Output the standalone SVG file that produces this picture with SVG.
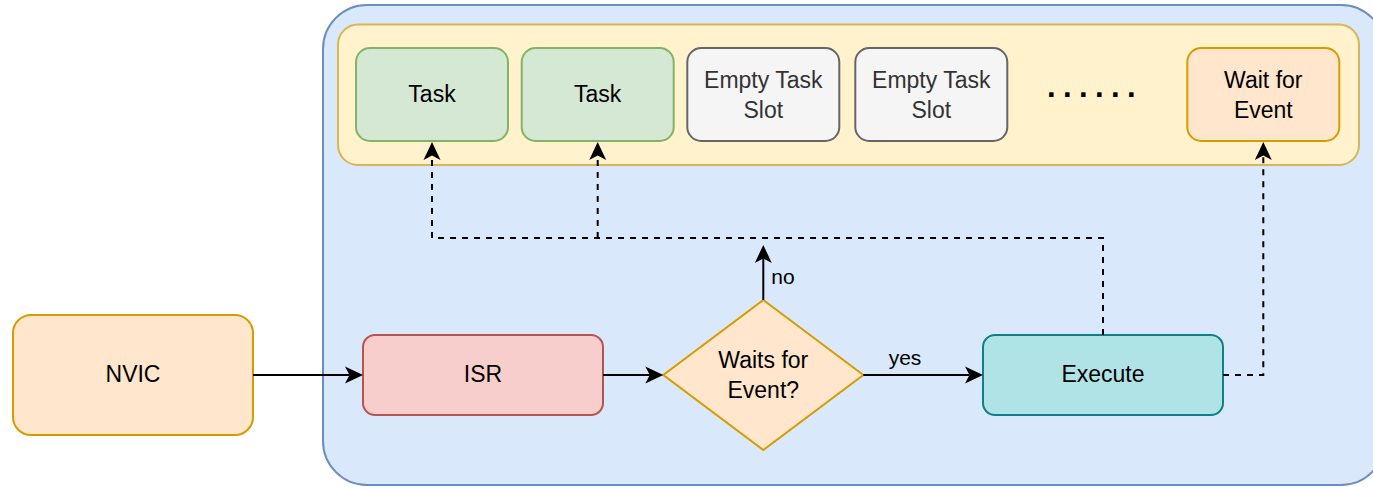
<svg xmlns="http://www.w3.org/2000/svg" width="1373" height="487" viewBox="0 0 1373 487">
<style>
text{font-family:"Liberation Sans",Arial,sans-serif;font-size:23px;fill:#000;text-anchor:middle}
.lbl{font-size:21px}
.gray{fill:#333333}
.edge{fill:none;stroke:#000;stroke-width:2}
.dash{stroke-dasharray:6 6}
.b{stroke-width:2}
</style>
<defs>
<marker id="arr" viewBox="-5 -9 19 18" markerWidth="19" markerHeight="18" refX="0" refY="0" orient="auto" markerUnits="userSpaceOnUse">
<path d="M13.5,0 L-4.5,-8.5 L0,0 L-4.5,8.5 Z" fill="#000"/>
</marker>
</defs>
<g id="container">
<rect x="323" y="5" width="1062" height="480" rx="44" fill="#dae8fc" stroke="#6c8ebf" class="b"/>
</g>
<g id="taskpool">
<rect x="338" y="24.5" width="1021" height="140.5" rx="20" fill="#fff2cc" stroke="#d6b656" class="b"/>
</g>
<g id="task1">
<rect x="356" y="48" width="152" height="93" rx="14" fill="#d5e8d4" stroke="#82b366" class="b"/>
<text x="432" y="102">Task</text>
</g>
<g id="task2">
<rect x="521.7" y="48" width="152" height="93" rx="14" fill="#d5e8d4" stroke="#82b366" class="b"/>
<text x="597.7" y="102">Task</text>
</g>
<g id="empty1">
<rect x="687.3" y="48" width="152" height="93" rx="14" fill="#f5f5f5" stroke="#666666" class="b"/>
<text x="763.3" y="88.3" class="gray">Empty Task</text>
<text x="763.3" y="118.3" class="gray">Slot</text>
</g>
<g id="empty2">
<rect x="855.3" y="48" width="152" height="93" rx="14" fill="#f5f5f5" stroke="#666666" class="b"/>
<text x="931.3" y="88.3" class="gray">Empty Task</text>
<text x="931.3" y="118.3" class="gray">Slot</text>
</g>
<g id="dots">
<text x="1047" y="97" style="text-anchor:start;font-size:31px;font-weight:bold;letter-spacing:7.4px">......</text>
</g>
<g id="waitevent">
<rect x="1187.3" y="48" width="152" height="93" rx="14" fill="#ffe6cc" stroke="#d79b00" class="b"/>
<text x="1263.3" y="88.3">Wait for</text>
<text x="1263.3" y="118.3">Event</text>
</g>
<g id="nvic">
<rect x="13" y="315" width="240" height="120" rx="18" fill="#ffe6cc" stroke="#d79b00" class="b"/>
<text x="133" y="382">NVIC</text>
</g>
<g id="isr">
<rect x="363" y="335" width="240" height="80" rx="12" fill="#f8cecc" stroke="#b85450" class="b"/>
<text x="483" y="382">ISR</text>
</g>
<g id="decision">
<path d="M763.3,300 L863.3,375 L763.3,450 L663.3,375 Z" fill="#ffe6cc" stroke="#d79b00" class="b"/>
<text x="763.3" y="367.7">Waits for</text>
<text x="763.3" y="397.7">Event?</text>
</g>
<g id="execute">
<rect x="983" y="335" width="240" height="80" rx="12" fill="#b0e3e6" stroke="#0e8088" class="b"/>
<text x="1103" y="382">Execute</text>
</g>
<g id="connectors">
<path class="edge" d="M253,375 H349.5" marker-end="url(#arr)"/>
<path class="edge" d="M603,375 H649.8" marker-end="url(#arr)"/>
<path class="edge" d="M863.3,375 H969.5" marker-end="url(#arr)"/>
<path class="edge" d="M763.3,300 V258.5" marker-end="url(#arr)"/>
<path class="edge dash" d="M1103,335 V238 H432 V155.5" marker-end="url(#arr)"/>
<path class="edge dash" d="M597.7,238 V155.5" marker-end="url(#arr)"/>
<path class="edge dash" d="M1223,375 H1263.3 V155.5" marker-end="url(#arr)"/>
<text x="783" y="284.3" class="lbl">no</text>
<text x="905" y="365" class="lbl">yes</text>
</g>
</svg>
